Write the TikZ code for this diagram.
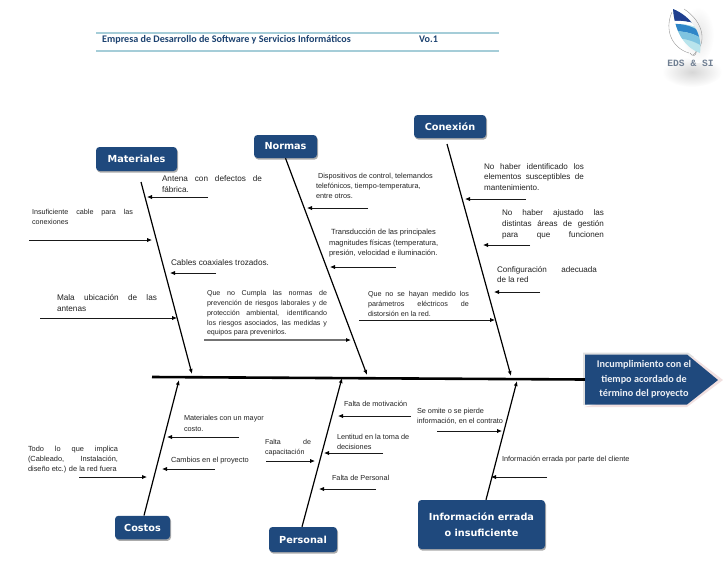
\documentclass[tikz,border=0pt]{standalone}
\usepackage{fontspec}
\setmainfont{Liberation Sans}
\newfontfamily\cfont{Carlito}
\newfontfamily\dfont{DejaVu Sans}
\newfontfamily\mfont{Liberation Mono}
\usetikzlibrary{arrows.meta,shadows}
\definecolor{navy}{HTML}{1F497D}
\definecolor{rule}{HTML}{A5CDD8}
\definecolor{ink}{HTML}{222222}
\definecolor{fdark}{HTML}{1F3F8F}
\definecolor{fmid}{HTML}{2F86C8}
\definecolor{flight}{HTML}{7FC4E0}
\definecolor{fpale}{HTML}{B9E4EC}
\tolerance=9999 \hbadness=10000 \hfuzz=3pt
\tikzset{
  x=1pt,y=-1pt,
  catbox/.style={fill=navy,rounded corners=3.5pt,text=white,font=\dfont\bfseries\fontsize{9.7}{16}\selectfont,
    inner sep=0pt,align=center,
    drop shadow={shadow xshift=1pt,shadow yshift=-1.6pt,fill=black!55,opacity=.6}},
  bone/.style={line width=1.2pt,black,-{Latex[length=5pt,width=4pt]}},
  rib/.style={line width=.8pt,black!90,-{Latex[length=5pt,width=4.2pt,black]}},
  note/.style={anchor=north west,inner sep=0pt,outer sep=0pt,text=ink,align=justify},
  headtext/.style={anchor=base west,inner sep=0pt,text=navy!90!black,font=\cfont\bfseries\fontsize{10.1}{11}\selectfont},
}
% name, x, centre y of first line, width, size, leading, text
\newcommand\notetext[7]{\node[note,text width=#4pt,font=\fontsize{#5}{#6}\selectfont] (#1) at (#2,{#3+1+0.25*#5-0.7*#6}) {\leavevmode\strut #7};}
\newcommand\ribline[5]{\coordinate (#1s) at (#2,#3);\coordinate (#1e) at (#4,#5);\draw[rib] (#1s) -- (#1e);}
\begin{document}
\begin{tikzpicture}
\useasboundingbox (0,0) rectangle (728,563);
% header
\coordinate (h1a) at (96,33);\coordinate (h1b) at (499,33);
\coordinate (h2a) at (96,51);\coordinate (h2b) at (499,51);
\draw[rule,line width=1.1pt] (h1a) -- (h1b);
\draw[rule,line width=1.1pt] (h2a) -- (h2b);
\node[headtext] (htitle) at (102,42) {Empresa de Desarrollo de Software y Servicios Informáticos};
\node[headtext] (hver) at (419,42) {Vo.1};
% logo
\shade[inner color=black!16,outer color=white] (692,72) ellipse (30 and 15);
\shade[inner color=black!10,outer color=white] (698,35) ellipse (16 and 28);
\draw[black!45,line width=.35pt] (672,12) .. controls (664,30) and (672,48) .. (689,53);
\draw[black!45,line width=.35pt] (684,9) .. controls (704,22) and (708,44) .. (693,55);
\begin{scope}
\clip (673,9) .. controls (690,16) and (703,32) .. (700,53) .. controls (688,49) and (675,36) .. (673,9);
\fill[fpale] (660,0) rectangle (710,60);
\fill[fdark] (665,5) -- (705,5) -- (705,27) .. controls (695,23) and (685,20) .. (670,21) -- cycle;
\fill[white] (670,21) .. controls (685,20) and (695,23) .. (705,27) -- (705,30) .. controls (695,26) and (685,23) .. (670,24) -- cycle;
\fill[fmid] (670,24) .. controls (685,23) and (695,27) .. (705,35) -- (705,41) .. controls (695,33) and (685,31) .. (670,31) -- cycle;
\fill[flight] (670,31) .. controls (685,31) and (695,33) .. (705,41) -- (705,48) .. controls (695,41) and (685,38) .. (672,38) -- cycle;
\end{scope}
\draw[black!45,line width=.4pt] (690,53) .. controls (692,57) and (697,56) .. (696,51);
\node[inner sep=0pt,text=black!40!navy!60!white,font=\mfont\bfseries\fontsize{9.6}{11}\selectfont] (logotxt) at (690.5,63) {EDS \& SI};
% head polygon
\fill[black!45!red!12!white] (584,407) -- (687,407) -- (723,380) -- (688,353) -- (700,380) -- cycle;
\fill[black!12] (583,352.5) -- (688,352.5) -- (694,357) -- (587,357) -- (587,405) -- (583,405) -- cycle;
\fill[navy] (585,354.5) -- (687,354.5) -- (718,380) -- (687,404.5) -- (585,404.5) -- cycle;
\node[inner sep=0pt,minimum width=118pt,minimum height=50pt,align=center,text=white!92!navy,font=\cfont\bfseries\fontsize{10.2}{14.6}\selectfont] (head) at (644,379.5) {Incumplimiento con el\\tiempo acordado de\\término del proyecto};
% spine
\coordinate (spine) at (152,377);
\draw[line width=2.6pt,black] (spine) -- (head.west);
% category boxes
\node[catbox,minimum width=81pt,minimum height=24pt] (materiales) at (136.5,159) {Materiales};
\node[catbox,minimum width=63pt,minimum height=23pt] (normas) at (285.5,146.5) {Normas};
\node[catbox,minimum width=72pt,minimum height=23pt] (conexion) at (450,126.5) {Conexión};
\node[catbox,minimum width=55pt,minimum height=23.5pt] (costos) at (142.5,527.5) {Costos};
\node[catbox,minimum width=68pt,minimum height=25pt] (personal) at (303,539.5) {Personal};
\node[catbox,minimum width=127pt,minimum height=49pt] (info) at (481.5,524.5) {Información errada\\o insuficiente};
% bones
\coordinate (bmats) at (141,182);\coordinate (bmate) at (192,374);
\coordinate (bnore) at (367,375);
\coordinate (bcons) at (447,144);\coordinate (bcone) at (511,376);
\coordinate (bcose) at (179,380);
\coordinate (bpere) at (342,378);
\coordinate (binfe) at (517,381);
\draw[bone] (bmats) -- (bmate);
\draw[bone] (normas.south) -- (bnore);
\draw[bone] (bcons) -- (bcone);
\draw[bone] ([xshift=1.5pt]costos.north) -- (bcose);
\draw[bone] ([xshift=-1pt]personal.north) -- (bpere);
\draw[bone] ([xshift=4.5pt]info.north) -- (binfe);
% ribs
\ribline{r1}{208}{197}{147}{197}
\ribline{r2}{29}{240}{152}{240}
\ribline{r3}{216}{273}{170}{273}
\ribline{r4}{40}{318}{177}{318}
\coordinate (r5s) at (204,340);\coordinate (r5e) at (351,340);
\draw[rib,black!55,line width=1.2pt] (r5s) -- (r5e);
\ribline{r6}{368}{208}{307}{208}
\ribline{r7}{396}{267}{330}{267}
\ribline{r8}{359}{320}{495}{320}
\ribline{r9}{526}{199}{465}{199}
\ribline{r10}{530}{245}{483}{245}
\ribline{r11}{540}{292}{494}{292}
\ribline{r12}{239}{437}{167}{437}
\ribline{r13}{215}{469}{162}{469}
\ribline{r14}{79}{477}{147}{477}
\ribline{r15}{266}{461}{315}{461}
\ribline{r16}{411}{416}{338}{416}
\ribline{r17}{383}{453}{324}{453}
\ribline{r18}{376}{489}{319}{489}
\ribline{r19}{437}{431}{502}{431}
\ribline{r20}{547}{477}{491}{477}
% texts
\notetext{t1}{162}{178}{100}{8.2}{11}{Antena con defectos de \linebreak fábrica.}
\notetext{t2}{32}{212}{101}{7.2}{10}{Insuficiente cable para las \linebreak conexiones}
\notetext{t3}{171}{262}{110}{8.2}{11}{Cables coaxiales trozados.}
\notetext{t4}{57}{297}{100}{8.2}{11}{Mala ubicación de las \linebreak antenas}
\notetext{t5}{207}{293}{120}{7.1}{9.75}{Que no Cumpla las normas de \linebreak prevención de riesgos laborales y de \linebreak protección ambiental, identificando \linebreak los riesgos asociados, las medidas y \linebreak equipos para prevenirlos.}
\notetext{t6}{316}{176}{125}{7.3}{10}{\ Dispositivos de control, telemandos\newline telefónicos, tiempo-temperatura,\newline entre otros.}
\notetext{t7}{329}{232}{125}{7.5}{10.5}{\ Transducción de las principales\newline magnitudes físicas (temperatura,\newline presión, velocidad e iluminación.}
\notetext{t8}{368}{294}{101}{7.2}{10}{Que no se hayan medido los \linebreak parámetros eléctricos de \linebreak distorsión en la red.}
\notetext{t9}{484}{166}{100}{8.1}{10.5}{No haber identificado los \linebreak elementos susceptibles de \linebreak mantenimiento.}
\notetext{t10}{502}{212}{102}{8.1}{11}{No haber ajustado las \linebreak distintas áreas de gestión \linebreak para\hfill que\hfill funcionen}
\notetext{t11}{497}{269}{100}{8.1}{10.5}{Configuración adecuada \linebreak de la red}
\notetext{t12}{184}{418}{90}{7.3}{10.5}{Materiales con un mayor\newline costo.}
\notetext{t13}{171}{460}{90}{7.4}{10}{Cambios en el proyecto}
\notetext{t14}{28}{449}{90}{7.4}{10}{Todo lo que implica \linebreak (Cableado, Instalación, \linebreak diseño etc.) de la red fuera}
\notetext{t15}{265}{442}{46}{7.1}{10}{Falta de \linebreak capacitación}
\notetext{t16}{344}{404}{80}{7.3}{10}{Falta de motivación}
\notetext{t17}{337}{437}{80}{7.3}{10}{Lentitud en la toma de\newline decisiones}
\notetext{t18}{332}{478}{80}{7.3}{10}{Falta de Personal}
\notetext{t19}{417}{411}{95}{7.3}{9.5}{Se omite o se pierde\newline información, en el contrato}
\notetext{t20}{502}{459}{140}{7.3}{10}{Información errada por parte del cliente}
\end{tikzpicture}
\end{document}
